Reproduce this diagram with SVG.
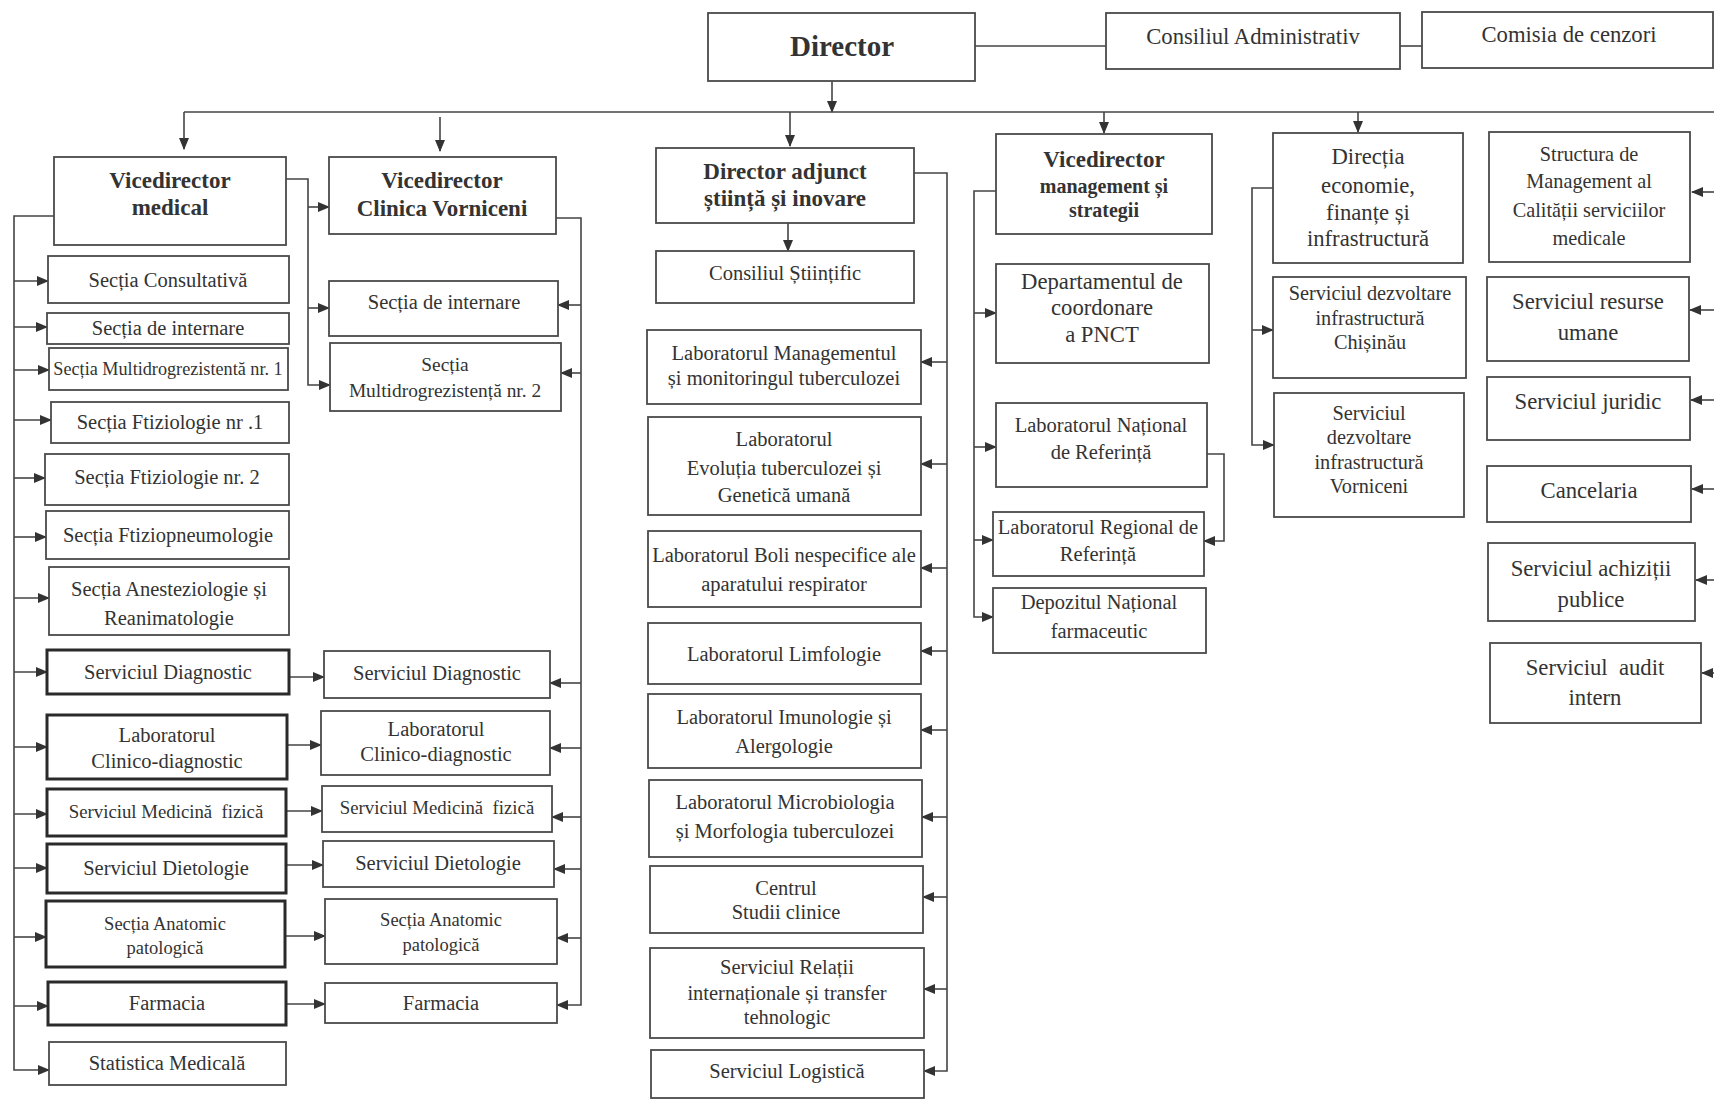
<svg xmlns="http://www.w3.org/2000/svg" width="1714" height="1100" viewBox="0 0 1714 1100">
<style>
rect{fill:#fff;stroke:#4a4a4a;stroke-width:1.8}
rect.k{stroke:#2a2a2a;stroke-width:3}
text{font-family:"Liberation Serif","Times New Roman",serif;font-size:20.5px;fill:#333;text-anchor:middle}
text.b{font-weight:bold;font-size:23px}
text.s{font-size:18.5px}
text.m{font-size:20.3px}
text.l{font-size:22.7px}
#connectors path{fill:none;stroke:#444;stroke-width:1.6}
#connectors path.a{marker-end:url(#ah)}
</style>
<defs>
<marker id="ah" markerWidth="12" markerHeight="10" refX="11" refY="5" orient="auto" markerUnits="userSpaceOnUse"><path d="M0,0 L12,5 L0,10 z" fill="#333"/></marker>
</defs>
<rect x="0" y="0" width="1714" height="1100" style="fill:#fff;stroke:none"/>

<g id="connectors">
<path d="M975,46 H1106"/>
<path d="M1400,46 H1422"/>
<path class="a" d="M832,81 V112"/>
<path d="M184,112 H1714"/>
<path class="a" d="M184,112 V149"/>
<path class="a" d="M440,117 V151"/>
<path class="a" d="M790,112 V146"/>
<path class="a" d="M1104,112 V133"/>
<path class="a" d="M1358,112 V132"/>
<path class="a" d="M54,216 H14 V1070 H49"/>
<path class="a" d="M14,281 H48"/>
<path class="a" d="M14,327 H47"/>
<path class="a" d="M14,370 H49"/>
<path class="a" d="M14,420 H51"/>
<path class="a" d="M14,478 H45"/>
<path class="a" d="M14,537 H46"/>
<path class="a" d="M14,598 H49"/>
<path class="a" d="M14,672 H47"/>
<path class="a" d="M14,747 H47"/>
<path class="a" d="M14,814 H47"/>
<path class="a" d="M14,868 H47"/>
<path class="a" d="M14,937 H46"/>
<path class="a" d="M14,1006 H48"/>
<path class="a" d="M289,677 H324"/>
<path class="a" d="M287,745 H321"/>
<path class="a" d="M286,811 H322"/>
<path class="a" d="M286,865 H323"/>
<path class="a" d="M285,936 H325"/>
<path class="a" d="M286,1004 H325"/>
<path class="a" d="M286,179 H308 V385 H330"/>
<path class="a" d="M308,207 H329"/>
<path class="a" d="M308,308 H329"/>
<path class="a" d="M556,218 H581 V1005 H557"/>
<path class="a" d="M581,305 H558"/>
<path class="a" d="M581,373 H561"/>
<path class="a" d="M581,683 H550"/>
<path class="a" d="M581,748 H550"/>
<path class="a" d="M581,817 H552"/>
<path class="a" d="M581,869 H554"/>
<path class="a" d="M581,938 H557"/>
<path class="a" d="M788,223 V251"/>
<path class="a" d="M914,173 H947 V1071 H924"/>
<path class="a" d="M947,362 H921"/>
<path class="a" d="M947,464 H921"/>
<path class="a" d="M947,568 H921"/>
<path class="a" d="M947,651 H921"/>
<path class="a" d="M947,730 H921"/>
<path class="a" d="M947,817 H922"/>
<path class="a" d="M947,897 H923"/>
<path class="a" d="M947,989 H924"/>
<path class="a" d="M996,191 H974 V617 H993"/>
<path class="a" d="M974,313 H996"/>
<path class="a" d="M974,447 H996"/>
<path class="a" d="M974,540 H993"/>
<path class="a" d="M1207,454 H1224 V541 H1204"/>
<path class="a" d="M1273,188 H1252 V445 H1274"/>
<path class="a" d="M1252,330 H1273"/>
<path class="a" d="M1714,192 H1692"/>
<path class="a" d="M1714,310 H1690"/>
<path class="a" d="M1714,400 H1691"/>
<path class="a" d="M1714,489 H1692"/>
<path class="a" d="M1714,580 H1696"/>
<path class="a" d="M1714,673 H1702"/>
</g>

<g id="director"><rect x="708" y="13" width="267" height="68"/><text x="842" y="56" class="b" style="font-size:29px">Director</text></g>
<g id="consiliul-admin"><rect x="1106" y="13" width="294" height="56"/><text x="1253" y="44" class="l">Consiliul Administrativ</text></g>
<g id="comisia"><rect x="1422" y="12" width="291" height="56"/><text x="1569" y="42" class="l">Comisia de cenzori</text></g>

<g id="vd-medical"><rect x="54" y="157" width="232" height="88"/><text x="170" y="188" class="b">Vicedirector</text><text x="170" y="215" class="b">medical</text></g>
<g id="c1-consultativa"><rect x="48" y="256" width="241" height="47"/><text x="168" y="287">Secția Consultativă</text></g>
<g id="c1-internare"><rect x="47" y="313" width="242" height="31"/><text x="168" y="335">Secția de internare</text></g>
<g id="c1-mdr1"><rect x="49" y="348" width="239" height="42"/><text x="168" y="375" style="font-size:18.2px">Secția Multidrogrezistentă nr. 1</text></g>
<g id="c1-ftiz1"><rect x="51" y="402" width="238" height="41"/><text x="170" y="429">Secția Ftiziologie nr .1</text></g>
<g id="c1-ftiz2"><rect x="45" y="454" width="244" height="51"/><text x="167" y="484">Secția Ftiziologie nr. 2</text></g>
<g id="c1-ftizpn"><rect x="46" y="511" width="243" height="48"/><text x="168" y="542">Secția Ftiziopneumologie</text></g>
<g id="c1-anest"><rect x="49" y="567" width="240" height="68"/><text x="169" y="596">Secția Anesteziologie și</text><text x="169" y="625">Reanimatologie</text></g>
<g id="c1-diag"><rect class="k" x="47" y="650" width="242" height="44"/><text x="168" y="679">Serviciul Diagnostic</text></g>
<g id="c1-lab"><rect class="k" x="47" y="715" width="240" height="64"/><text x="167" y="742">Laboratorul</text><text x="167" y="768">Clinico-diagnostic</text></g>
<g id="c1-medfiz"><rect class="k" x="47" y="789" width="239" height="47"/><text x="166" y="818" style="font-size:18.8px" xml:space="preserve">Serviciul Medicină  fizică</text></g>
<g id="c1-diet"><rect class="k" x="47" y="844" width="239" height="49"/><text x="166" y="875">Serviciul Dietologie</text></g>
<g id="c1-anat"><rect class="k" x="46" y="901" width="239" height="66"/><text x="165" y="930" class="s">Secția Anatomic</text><text x="165" y="954" class="s">patologică</text></g>
<g id="c1-farm"><rect class="k" x="48" y="982" width="238" height="43"/><text x="167" y="1010">Farmacia</text></g>
<g id="c1-stat"><rect x="49" y="1042" width="237" height="43"/><text x="167" y="1070">Statistica Medicală</text></g>

<g id="vd-clinica"><rect x="329" y="157" width="227" height="77"/><text x="442" y="188" class="b">Vicedirector</text><text x="442" y="216" class="b">Clinica Vorniceni</text></g>
<g id="c2-internare"><rect x="329" y="281" width="229" height="55"/><text x="444" y="309">Secția de internare</text></g>
<g id="c2-mdr2"><rect x="330" y="343" width="231" height="68"/><text x="445" y="371" style="font-size:19.4px">Secția</text><text x="445" y="397" style="font-size:19.4px">Multidrogrezistență nr. 2</text></g>
<g id="c2-diag"><rect x="324" y="651" width="226" height="47"/><text x="437" y="680">Serviciul Diagnostic</text></g>
<g id="c2-lab"><rect x="321" y="711" width="229" height="64"/><text x="436" y="736">Laboratorul</text><text x="436" y="761">Clinico-diagnostic</text></g>
<g id="c2-medfiz"><rect x="322" y="786" width="230" height="46"/><text x="437" y="814" style="font-size:18.8px" xml:space="preserve">Serviciul Medicină  fizică</text></g>
<g id="c2-diet"><rect x="323" y="841" width="231" height="46"/><text x="438" y="870">Serviciul Dietologie</text></g>
<g id="c2-anat"><rect x="325" y="899" width="232" height="65"/><text x="441" y="926" class="s">Secția Anatomic</text><text x="441" y="951" class="s">patologică</text></g>
<g id="c2-farm"><rect x="325" y="983" width="232" height="40"/><text x="441" y="1010">Farmacia</text></g>

<g id="dir-adjunct"><rect x="656" y="148" width="258" height="75"/><text x="785" y="179" class="b">Director adjunct</text><text x="785" y="206" class="b">știință și inovare</text></g>
<g id="c3-consiliul"><rect x="656" y="251" width="258" height="52"/><text x="785" y="280">Consiliul Științific</text></g>
<g id="c3-lab-man"><rect x="647" y="330" width="274" height="74"/><text x="784" y="360">Laboratorul Managementul</text><text x="784" y="385">și monitoringul tuberculozei</text></g>
<g id="c3-lab-evol"><rect x="648" y="417" width="273" height="98"/><text x="784" y="446">Laboratorul</text><text x="784" y="475">Evoluția tuberculozei și</text><text x="784" y="502">Genetică umană</text></g>
<g id="c3-lab-boli"><rect x="648" y="531" width="273" height="76"/><text x="784" y="562">Laboratorul Boli nespecifice ale</text><text x="784" y="591">aparatului respirator</text></g>
<g id="c3-lab-limf"><rect x="648" y="623" width="273" height="61"/><text x="784" y="661">Laboratorul Limfologie</text></g>
<g id="c3-lab-imun"><rect x="648" y="694" width="273" height="74"/><text x="784" y="724">Laboratorul Imunologie și</text><text x="784" y="753">Alergologie</text></g>
<g id="c3-lab-micro"><rect x="649" y="780" width="273" height="77"/><text x="785" y="809">Laboratorul Microbiologia</text><text x="785" y="838">și Morfologia tuberculozei</text></g>
<g id="c3-centrul"><rect x="650" y="866" width="273" height="67"/><text x="786" y="895">Centrul</text><text x="786" y="919">Studii clinice</text></g>
<g id="c3-relatii"><rect x="650" y="948" width="274" height="90"/><text x="787" y="974">Serviciul Relații</text><text x="787" y="1000">internaționale și transfer</text><text x="787" y="1024">tehnologic</text></g>
<g id="c3-logistica"><rect x="651" y="1050" width="273" height="48"/><text x="787" y="1078">Serviciul Logistică</text></g>

<g id="vd-management"><rect x="996" y="134" width="216" height="100"/><text x="1104" y="167" class="b">Vicedirector</text><text x="1104" y="193" class="b" style="font-size:20px">management și</text><text x="1104" y="217" class="b" style="font-size:20px">strategii</text></g>
<g id="c4-pnct"><rect x="996" y="264" width="213" height="99"/><text x="1102" y="289" class="l">Departamentul de</text><text x="1102" y="315" class="l">coordonare</text><text x="1102" y="342" class="l">a PNCT</text></g>
<g id="c4-lnr"><rect x="996" y="403" width="211" height="84"/><text x="1101" y="432">Laboratorul Național</text><text x="1101" y="459">de Referință</text></g>
<g id="c4-lrr"><rect x="993" y="512" width="211" height="64"/><text x="1098" y="534">Laboratorul Regional de</text><text x="1098" y="561">Referință</text></g>
<g id="c4-depozit"><rect x="993" y="588" width="213" height="65"/><text x="1099" y="609">Depozitul Național</text><text x="1099" y="638">farmaceutic</text></g>

<g id="dir-economie"><rect x="1273" y="133" width="190" height="130"/><text x="1368" y="164" class="l">Direcția</text><text x="1368" y="193" class="l">economie,</text><text x="1368" y="220" class="l">finanțe și</text><text x="1368" y="246" class="l">infrastructură</text></g>
<g id="c5-chisinau"><rect x="1273" y="277" width="193" height="101"/><text x="1370" y="300" class="m">Serviciul dezvoltare</text><text x="1370" y="325" class="m">infrastructură</text><text x="1370" y="349" class="m">Chișinău</text></g>
<g id="c5-vorniceni"><rect x="1274" y="393" width="190" height="124"/><text x="1369" y="420" class="m">Serviciul</text><text x="1369" y="444" class="m">dezvoltare</text><text x="1369" y="469" class="m">infrastructură</text><text x="1369" y="493" class="m">Vorniceni</text></g>

<g id="c6-structura"><rect x="1489" y="132" width="201" height="130"/><text x="1589" y="161" class="m">Structura de</text><text x="1589" y="188" class="m">Management al</text><text x="1589" y="217" class="m">Calității serviciilor</text><text x="1589" y="245" class="m">medicale</text></g>
<g id="c6-resurse"><rect x="1487" y="277" width="202" height="84"/><text x="1588" y="309" class="l">Serviciul resurse</text><text x="1588" y="340" class="l">umane</text></g>
<g id="c6-juridic"><rect x="1487" y="377" width="203" height="63"/><text x="1588" y="409" class="l">Serviciul juridic</text></g>
<g id="c6-cancelaria"><rect x="1487" y="466" width="204" height="56"/><text x="1589" y="498" class="l">Cancelaria</text></g>
<g id="c6-achizitii"><rect x="1488" y="543" width="207" height="78"/><text x="1591" y="576" class="l">Serviciul achiziții</text><text x="1591" y="607" class="l">publice</text></g>
<g id="c6-audit"><rect x="1490" y="643" width="211" height="80"/><text x="1595" y="675" class="l" xml:space="preserve">Serviciul  audit</text><text x="1595" y="705" class="l">intern</text></g>
</svg>
